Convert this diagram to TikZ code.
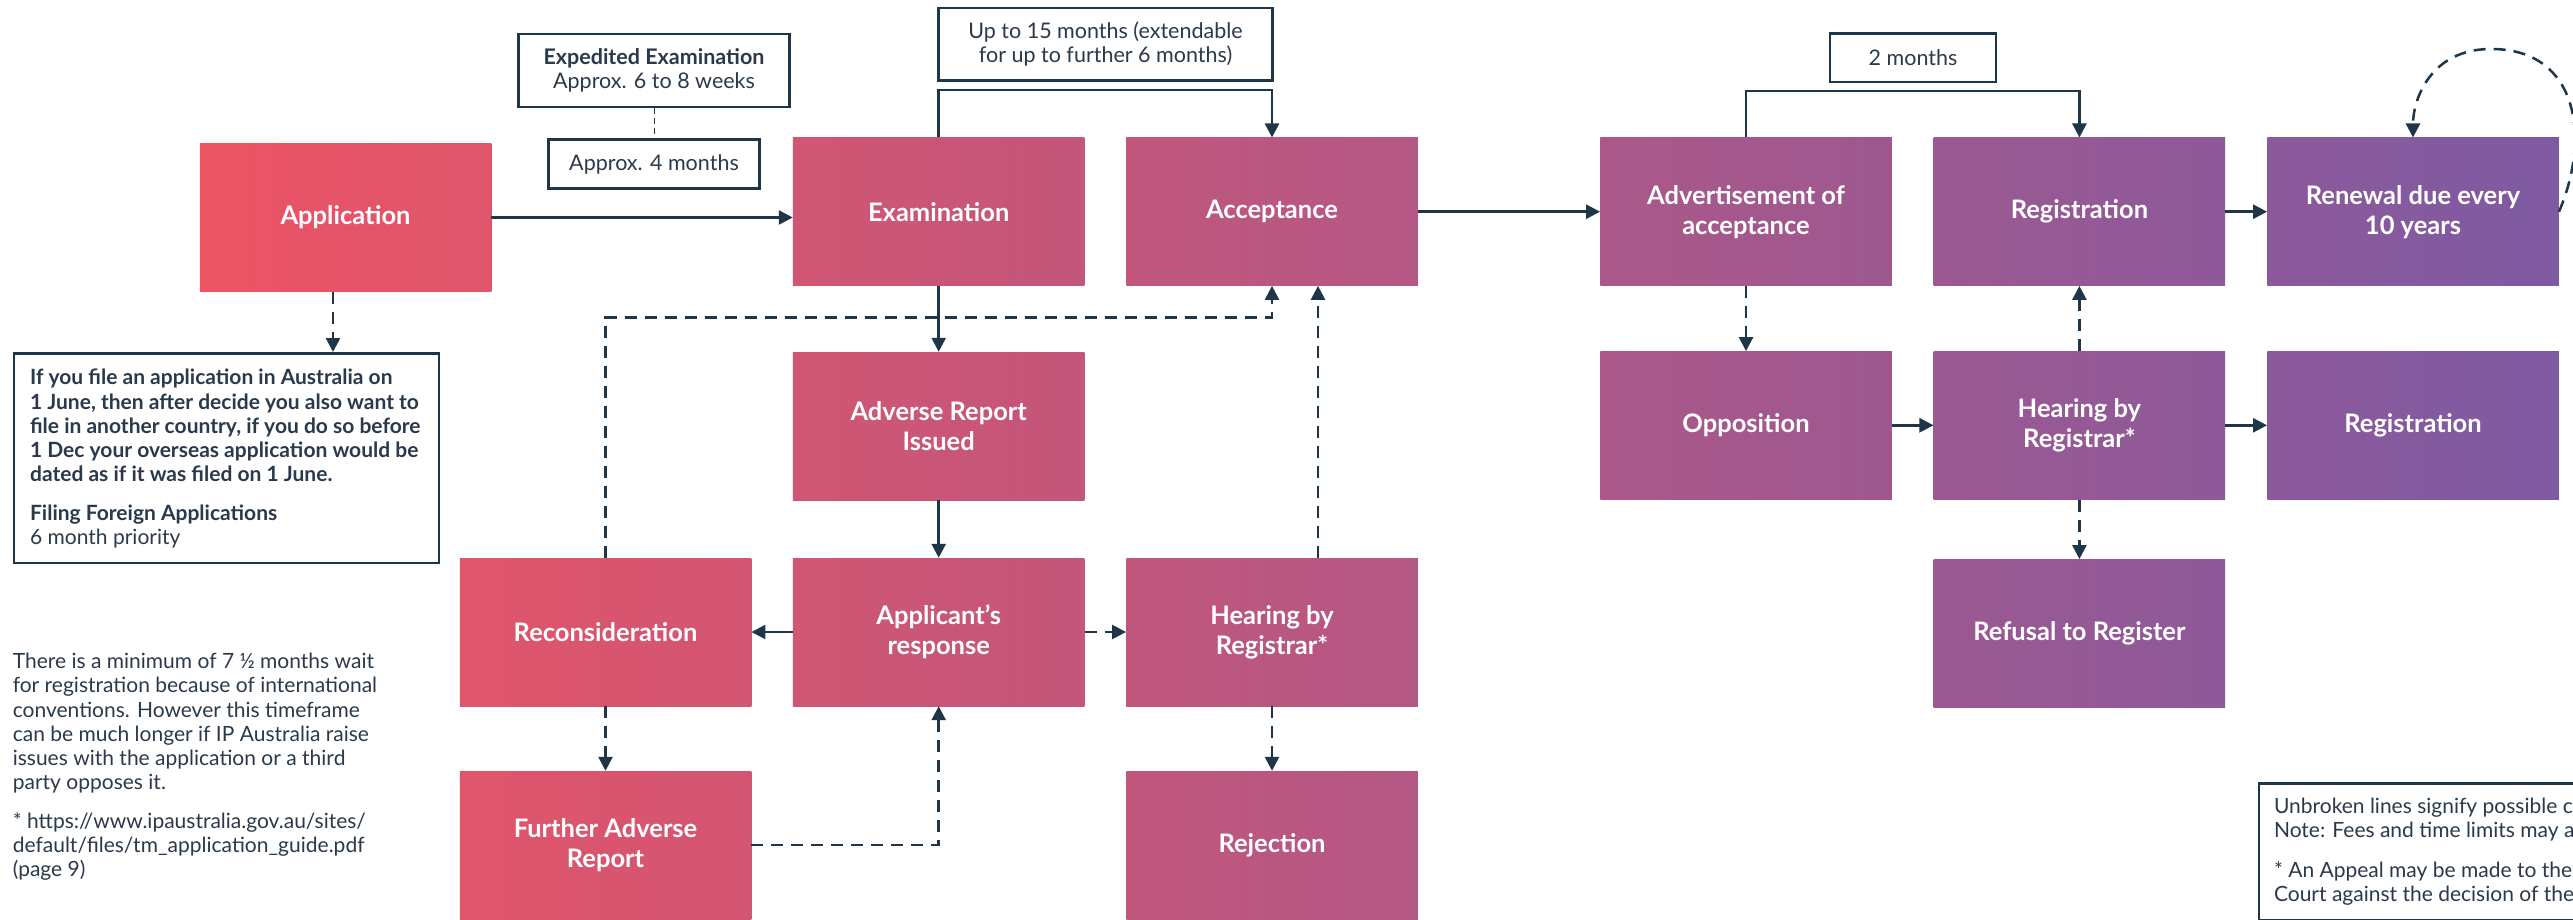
\documentclass[tikz,border=0pt]{standalone}
\usepackage{fontspec}
\setmainfont{Lato}
\usetikzlibrary{arrows.meta}
\definecolor{lc}{RGB}{30,54,72}
\definecolor{tc}{RGB}{42,58,74}
\definecolor{gA}{RGB}{236,84,100}
\definecolor{gB}{RGB}{126,90,162}
\tikzset{
  box/.style={rectangle, minimum width=291.5pt, minimum height=148pt, inner sep=0pt,
    align=center, text=white, font=\bfseries\fontsize{25.5}{30}\selectfont},
  cA/.style={left color=gB!0!gA, right color=gB!12.3!gA},
  cB/.style={left color=gB!11!gA, right color=gB!23.4!gA},
  cC/.style={left color=gB!25.1!gA, right color=gB!37.5!gA},
  cD/.style={left color=gB!39.3!gA, right color=gB!51.6!gA},
  cE/.style={left color=gB!59.3!gA, right color=gB!71.7!gA},
  cF/.style={left color=gB!73.5!gA, right color=gB!85.8!gA},
  cG/.style={left color=gB!87.6!gA, right color=gB!100!gA},
  note/.style={draw=lc, line width=2.5pt, align=center, text=tc, inner sep=0pt,
    font=\fontsize{21.5}{24}\selectfont},
  conn/.style={draw=lc, line width=2.5pt},
  arr/.style={-{Triangle[length=14pt,width=14pt]}},
  dsh/.style={dash pattern=on 12pt off 8pt},
}
\begin{document}
\begin{tikzpicture}[x=1pt,y=-1pt]
\useasboundingbox (0,0) rectangle (2573,920);
\clip (0,0) rectangle (2573,920);
\fill[white] (0,0) rectangle (2573,920);

% process boxes
\node[box,cA] (app) at (345.5,217.5) {Application};
\node[box,cC] (exam) at (938.7,211.7) {Examination};
\node[box,cD] (acc) at (1272,211.7) {Acceptance};
\node[box,cE] (advt) at (1746,211.7) {Advertisement of\\acceptance};
\node[box,cF] (reg) at (2079.4,211.7) {Registration};
\node[box,cG] (ren) at (2413,211.7) {Renewal due every\\10 years};
\node[box,cC] (adv) at (938.7,426) {Adverse Report\\Issued};
\node[box,cE] (opp) at (1746,425.3) {Opposition};
\node[box,cF] (hear2) at (2079.4,425.3) {Hearing by\\Registrar*};
\node[box,cG] (reg2) at (2413,425.3) {Registration};
\node[box,cB] (recon) at (605.5,632) {Reconsideration};
\node[box,cC] (resp) at (938.7,632) {Applicant’s\\response};
\node[box,cD] (hear) at (1272,632) {Hearing by\\Registrar*};
\node[box,cF] (refuse) at (2079.4,633.3) {Refusal to Register};
\node[box,cB] (fadv) at (605.5,845) {Further Adverse\\Report};
\node[box,cD] (rej) at (1272,845) {Rejection};

% annotation boxes
\node[note, minimum width=271pt, minimum height=73pt] (exped) at (654,70.3)
  {\textbf{Expedited Examination}\\Approx. 6 to 8 weeks};
\node[note, minimum width=211pt, minimum height=49.4pt] (approx) at (654,164) {Approx. 4 months};
\node[note, minimum width=334pt, minimum height=72.7pt] (m15) at (1105.5,44.3)
  {Up to 15 months (extendable\\for up to further 6 months)};
\node[note, minimum width=166pt, minimum height=48.7pt] (m2) at (1913,57.7) {2 months};

\node[draw=lc, line width=2.5pt, minimum width=425pt, minimum height=209.5pt, inner sep=0pt,
  anchor=north west] (info) at (12.6,352) {};
\node[anchor=north west, align=left, text=tc, inner sep=0pt,
  font=\fontsize{21}{24.2}\selectfont] (infotxt) at (29.9,369)
  {\textbf{If you file an application in Australia on}\\
   \textbf{1 June, then after decide you also want to}\\
   \textbf{file in another country, if you do so before}\\
   \textbf{1 Dec your overseas application would be}\\
   \textbf{dated as if it was filed on 1 June.}\\[14.5pt]
   \textbf{Filing Foreign Applications}\\
   6 month priority};

\node[anchor=north west, align=left, text=tc, inner sep=0pt,
  font=\fontsize{21}{24.2}\selectfont] (para) at (12.6,653)
  {There is a minimum of 7 ½ months wait\\
   for registration because of international\\
   conventions. However this timeframe\\
   can be much longer if IP Australia raise\\
   issues with the application or a third\\
   party opposes it.\\[14.4pt]
   * https://www.ipaustralia.gov.au/sites/\\
   default/files/tm\_application\_guide.pdf\\
   (page 9)};

\node[draw=lc, line width=2.5pt, minimum width=500pt, minimum height=137pt, inner sep=0pt,
  anchor=north west] (legend) at (2257.7,782) {};
\node[anchor=north west, align=left, text=tc, inner sep=0pt,
  font=\fontsize{21}{23.8}\selectfont] (legtxt) at (2273.8,798)
  {Unbroken lines signify possible courses\\
   Note: Fees and time limits may apply\\[16.7pt]
   * An Appeal may be made to the Federal\\
   Court against the decision of the Registrar};

% connectors
\draw[lc, line width=1pt, dash pattern=on 6pt off 4pt] (exped.south) -- (approx.north);
\draw[conn,arr] (app.east) -- (app.east -| exam.west);
\draw[conn,arr] (exam.north) -- ++(0,-47.7) -| (acc.north);
\draw[conn,arr] (exam.south) -- (adv.north);
\draw[conn,arr] (adv.south) -- (resp.north);
\draw[conn,arr] (resp.west) -- (recon.east);
\draw[conn,dsh,arr] (resp.east) -- (hear.west);
\draw[conn,dsh,arr] (hear.south) -- (rej.north);
\draw[conn,dsh,arr] ([xshift=46pt]hear.north) -- ([xshift=46pt]acc.south);
\draw[conn,dsh,arr] (recon.north) -- ++(0,-240.3) -| (acc.south);
\draw[conn,dsh,arr] (recon.south) -- (fadv.north);
\draw[conn,dsh,arr] (fadv.east) -| (resp.south);
\path (app.south) ++(-12.5,0) coordinate (d0);
\draw[conn,dsh,arr] (d0) -- (d0 |- info.north);
\draw[conn,arr] (acc.east) -- (advt.west);
\draw[conn,arr] (advt.north) -- ++(0,-46.7) -| (reg.north);
\draw[conn,arr] (reg.east) -- (ren.west);
\draw[conn,dsh,arr] (ren.east) .. controls (2590,140) and (2580,49) .. (2491,49)
  .. controls (2430,49) and (2413,100) .. (ren.north);
\draw[conn,dsh,arr] (advt.south) -- (opp.north);
\draw[conn,arr] (opp.east) -- (hear2.west);
\draw[conn,arr] (hear2.east) -- (reg2.west);
\draw[conn,dsh,arr] (hear2.north) -- (reg.south);
\draw[conn,dsh,arr] (hear2.south) -- (refuse.north);
\end{tikzpicture}
\end{document}
